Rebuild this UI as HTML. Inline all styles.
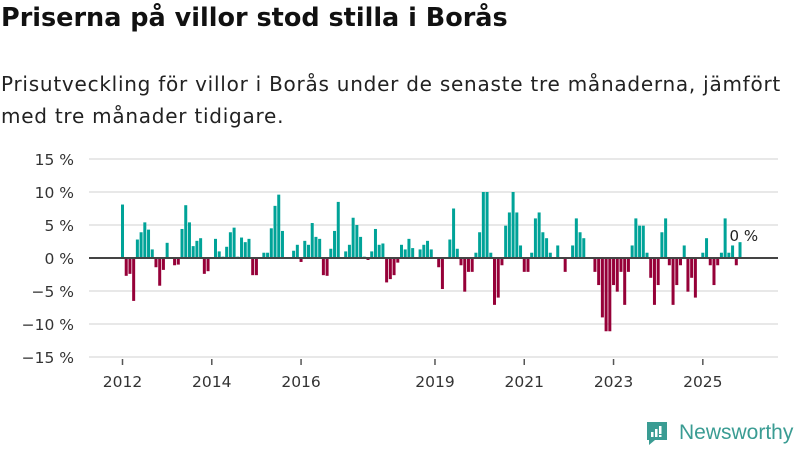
<!DOCTYPE html>
<html><head><meta charset="utf-8"><style>
body{margin:0;width:800px;height:450px;background:#fff;font-family:"DejaVu Sans","Liberation Sans",sans-serif;overflow:hidden;position:relative}
#title{position:absolute;left:1px;top:3px;font-size:25.5px;font-weight:bold;color:#111;margin:0;white-space:nowrap}
#sub{position:absolute;left:1px;top:68px;font-size:20px;line-height:32px;color:#222;width:799px;white-space:nowrap;letter-spacing:0.75px}
#logo{position:absolute;left:645px;top:420px;display:flex;align-items:center;color:#3a9c93;font-size:21px;font-family:"Liberation Sans",sans-serif}
</style></head><body>
<h1 id="title">Priserna på villor stod stilla i Borås</h1>
<div id="sub">Prisutveckling för villor i Borås under de senaste tre månaderna, jämfört<br>med tre månader tidigare.</div>
<svg id="chart" width="800" height="450" style="position:absolute;left:0;top:0"></svg>
<div id="logo"><svg width="24" height="26" viewBox="0 0 24 26"><path d="M2 2h20v18h-12l-6 5v-5h-2z" fill="#3a9c93"/><rect x="6" y="12" width="2.5" height="5" fill="#fff"/><rect x="10" y="9" width="2.5" height="8" fill="#fff"/><rect x="14" y="6" width="2.5" height="8" fill="#fff"/><rect x="14" y="15" width="2.5" height="2" fill="#fff"/></svg><span style="margin-left:10px">Newsworthy</span></div>
<script>
const values=[8.1,-2.7,-2.4,-6.5,2.8,3.9,5.4,4.3,1.3,-1.4,-4.2,-1.8,2.3,0,-1.1,-1,4.4,8.0,5.4,1.8,2.6,3.0,-2.4,-2.0,0,2.9,1.0,0.2,1.7,3.9,4.6,0.2,3.1,2.4,2.9,-2.6,-2.6,0,0.8,0.8,4.5,7.9,9.6,4.1,0,0,1.1,2.0,-0.6,2.6,2.0,5.3,3.2,2.9,-2.6,-2.7,1.4,4.1,8.5,0,1.0,2.0,6.1,5.0,3.2,0.2,-0.3,1.0,4.4,2.0,2.2,-3.7,-3.2,-2.6,-0.7,2.0,1.3,2.9,1.5,0,1.3,2.0,2.6,1.3,0,-1.4,-4.7,0,2.8,7.5,1.4,-1.1,-5.1,-2.1,-2.1,0.8,3.9,10,10,0.8,-7.1,-6,-1.1,4.9,6.9,10,6.9,1.9,-2.1,-2.1,0.8,6.0,6.9,3.9,3.0,0.8,0,1.9,0,-2.1,0,1.9,6.0,3.9,3.0,0,0,-2.1,-4.1,-9,-11.1,-11.1,-4.1,-5.1,-2.1,-7.1,-2.1,1.9,6.0,4.9,4.9,0.8,-3.0,-7.1,-4.1,3.9,6.0,-1.1,-7.1,-4.1,-1.1,1.9,-5.1,-3.0,-6,0,0.8,3.0,-1.1,-4.1,-1.1,0.8,6.0,0.8,1.9,-1.1,2.4];
const yTicks=[15,10,5,0,-5,-10,-15];
const yLabels=["15 %","10 %","5 %","0 %","\u22125 %","\u221210 %","\u221215 %"];
const xYears=[2012,2014,2016,2019,2021,2023,2025];
const startYear=2012;
const NS="http://www.w3.org/2000/svg";
const svg=document.getElementById('chart');
const FF='DejaVu Sans, Liberation Sans, sans-serif';
const y=v=>258-v*6.6;
const x=i=>121+i*3.72;
function mk(t,a){const e=document.createElementNS(NS,t);for(const k in a)e.setAttribute(k,a[k]);svg.appendChild(e);return e;}
yTicks.forEach((t,k)=>{
 if(t!==0){const g=mk('line',{x1:89,x2:778,y1:y(t),y2:y(t),stroke:'#e0e0e0','stroke-width':1.5});
 
 }
 const l=mk('text',{x:74,y:y(t)+6,'text-anchor':'end','font-size':15.5,fill:'#333','font-family':FF});
 
 
 l.textContent=yLabels[k];
});
xYears.forEach(yr=>{
 const cx=x((yr-startYear)*12)+1.5;
 const tk=mk('line',{x1:cx,x2:cx,y1:359,y2:365,stroke:'#555','stroke-width':1.5});
 
 
 const l=mk('text',{x:cx,y:387,'text-anchor':'middle','font-size':15.5,fill:'#333','font-family':FF});
 
 
 l.textContent=yr;
});
values.forEach((v,i)=>{
 if(v===0)return;
 const b=mk('rect',{x:x(i),width:3,y:Math.min(y(v),258),height:Math.abs(y(v)-258),fill:v>0?'#00a398':'#960038'});
 
 
});
const z=mk('line',{x1:89,x2:778,y1:258,y2:258,stroke:'#444','stroke-width':2});


const last=values.length-1;
const an=mk('text',{x:x(last)-9,y:y(values[last])-1,'font-size':15,fill:'#222','font-family':FF});


an.textContent='0 %';
</script>
</body></html>
